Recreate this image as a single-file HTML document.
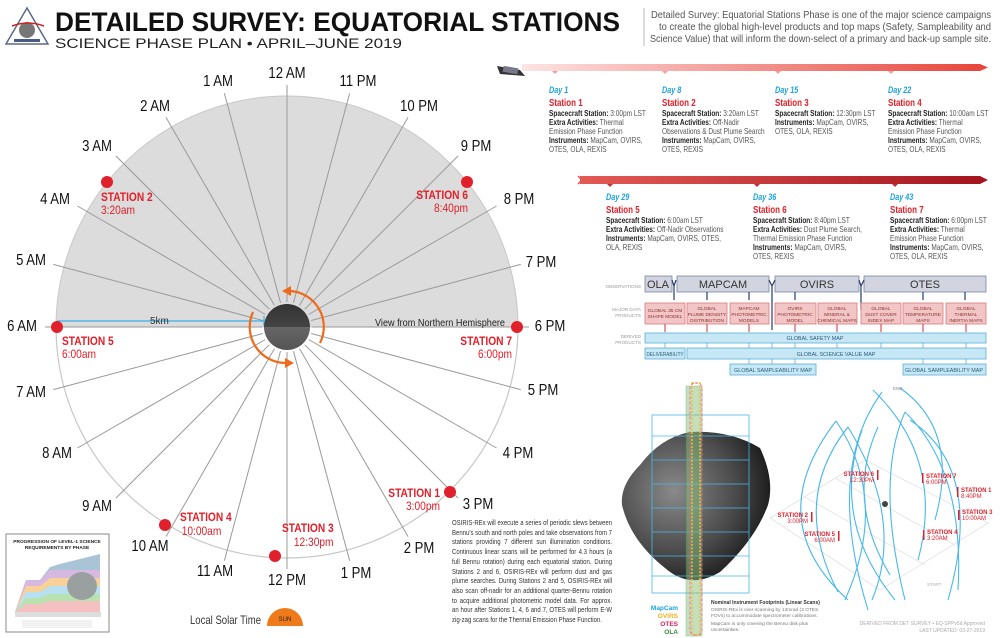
<!DOCTYPE html>
<html><head><meta charset="utf-8"><style>
html,body{margin:0;padding:0;background:#fff;}
svg{display:block;}
text{font-family:"Liberation Sans",sans-serif;}
.lab{font-size:16px;fill:#111;text-anchor:middle;dominant-baseline:middle;}
.st{font-size:12px;font-weight:bold;fill:#e0202a;}
.stt{font-size:12px;fill:#e0202a;}
.day{font-size:9.5px;font-weight:bold;font-style:italic;fill:#1aa3e0;}
.sn{font-size:10.5px;font-weight:bold;fill:#e0202a;}
.tl{font-size:8.6px;fill:#555;}
.tl tspan.b{font-weight:bold;fill:#222;}
.ob{font-size:11px;fill:#333;text-anchor:middle;}
.dp{font-size:4.8px;fill:#8a3030;text-anchor:middle;}
.dv{font-size:5.4px;fill:#2a5d7a;text-anchor:middle;}
.sl{font-size:4.6px;fill:#999;text-anchor:end;}
.s3{font-size:6px;font-weight:bold;fill:#e0202a;}
.s3t{font-size:6px;fill:#e0202a;}
</style></head><body>
<svg width="1000" height="638" viewBox="0 0 1000 638" xmlns="http://www.w3.org/2000/svg">
<defs>
<linearGradient id="g1" x1="0" x2="1"><stop offset="0" stop-color="#fde4e4"/><stop offset="1" stop-color="#e8453c"/></linearGradient>
<linearGradient id="g2" x1="0" x2="1"><stop offset="0" stop-color="#e35a55"/><stop offset="1" stop-color="#a3161f"/></linearGradient>
<radialGradient id="ast" cx="0.35" cy="0.4" r="0.7"><stop offset="0" stop-color="#8a8a8a"/><stop offset="0.6" stop-color="#4a4a4a"/><stop offset="1" stop-color="#151515"/></radialGradient>
<linearGradient id="ball" x1="0" y1="0" x2="0" y2="1"><stop offset="0" stop-color="#333"/><stop offset="0.5" stop-color="#444"/><stop offset="0.5" stop-color="#666"/><stop offset="1" stop-color="#555"/></linearGradient>
</defs>

<!-- logo -->
<polygon points="27,8 6,44 48,44" fill="#fff" stroke="#5a6a8a" stroke-width="1.5"/>
<circle cx="27" cy="30" r="8" fill="#777"/>
<path d="M12,26 Q28,20 44,26" stroke="#c22" stroke-width="1.5" fill="none"/>
<rect x="14" y="39" width="26" height="3" fill="#4a5a8a"/>

<!-- title -->
<text x="55" y="31" font-weight="bold" font-size="27" textLength="565" lengthAdjust="spacingAndGlyphs" fill="#111">DETAILED SURVEY:  EQUATORIAL STATIONS</text>
<text x="55" y="48" font-size="14" textLength="347" lengthAdjust="spacingAndGlyphs" fill="#222">SCIENCE PHASE PLAN • APRIL–JUNE 2019</text>

<line x1="644" y1="8" x2="644" y2="46" stroke="#bbb"/>
<g font-size="10.5" fill="#555">
<text x="651" y="18" textLength="340" lengthAdjust="spacingAndGlyphs">Detailed Survey: Equatorial Stations Phase is one of the major science campaigns</text>
<text x="659" y="30" textLength="332" lengthAdjust="spacingAndGlyphs">to create the global high-level products and top maps (Safety, Sampleability and</text>
<text x="650" y="42" textLength="341" lengthAdjust="spacingAndGlyphs">Science Value) that will inform the down-select of a primary and back-up sample site.</text>
</g>

<!-- clock -->
<path d="M56,327 A231,231 0 0 1 518,327 Z" fill="#dcdcdc" stroke="#c8c8c8"/>
<path d="M56,327 A231,231 0 0 0 518,327" fill="none" stroke="#c8c8c8" stroke-width="1.2"/>
<g stroke="#9a9a9a" stroke-width="1" transform="translate(287,327)">
<line x1="0" y1="-25" x2="0" y2="-242" transform="rotate(0)"/>
<line x1="0" y1="-25" x2="0" y2="-242" transform="rotate(-15)"/>
<line x1="0" y1="-25" x2="0" y2="-242" transform="rotate(-30)"/>
<line x1="0" y1="-25" x2="0" y2="-242" transform="rotate(-45)"/>
<line x1="0" y1="-25" x2="0" y2="-242" transform="rotate(-60)"/>
<line x1="0" y1="-25" x2="0" y2="-242" transform="rotate(-75)"/>
<line x1="0" y1="-25" x2="0" y2="-242" transform="rotate(-90)"/>
<line x1="0" y1="-25" x2="0" y2="-242" transform="rotate(-105)"/>
<line x1="0" y1="-25" x2="0" y2="-242" transform="rotate(-120)"/>
<line x1="0" y1="-25" x2="0" y2="-242" transform="rotate(-135)"/>
<line x1="0" y1="-25" x2="0" y2="-242" transform="rotate(-150)"/>
<line x1="0" y1="-25" x2="0" y2="-242" transform="rotate(-165)"/>
<line x1="0" y1="-25" x2="0" y2="-242" transform="rotate(-180)"/>
<line x1="0" y1="-25" x2="0" y2="-242" transform="rotate(-195)"/>
<line x1="0" y1="-25" x2="0" y2="-242" transform="rotate(-210)"/>
<line x1="0" y1="-25" x2="0" y2="-242" transform="rotate(-225)"/>
<line x1="0" y1="-25" x2="0" y2="-242" transform="rotate(-240)"/>
<line x1="0" y1="-25" x2="0" y2="-242" transform="rotate(-255)"/>
<line x1="0" y1="-25" x2="0" y2="-242" transform="rotate(-270)"/>
<line x1="0" y1="-25" x2="0" y2="-242" transform="rotate(-285)"/>
<line x1="0" y1="-25" x2="0" y2="-242" transform="rotate(-300)"/>
<line x1="0" y1="-25" x2="0" y2="-242" transform="rotate(-315)"/>
<line x1="0" y1="-25" x2="0" y2="-242" transform="rotate(-330)"/>
<line x1="0" y1="-25" x2="0" y2="-242" transform="rotate(-345)"/>
</g>
<g>
<text class="lab" transform="translate(287,74) scale(0.82,1)">12 AM</text>
<text class="lab" transform="translate(218,82) scale(0.82,1)">1 AM</text>
<text class="lab" transform="translate(155,107) scale(0.82,1)">2 AM</text>
<text class="lab" transform="translate(97,147) scale(0.82,1)">3 AM</text>
<text class="lab" transform="translate(55,200) scale(0.82,1)">4 AM</text>
<text class="lab" transform="translate(31,261) scale(0.82,1)">5 AM</text>
<text class="lab" transform="translate(22,327) scale(0.82,1)">6 AM</text>
<text class="lab" transform="translate(31,393) scale(0.82,1)">7 AM</text>
<text class="lab" transform="translate(57,454) scale(0.82,1)">8 AM</text>
<text class="lab" transform="translate(97,507) scale(0.82,1)">9 AM</text>
<text class="lab" transform="translate(150,547) scale(0.82,1)">10 AM</text>
<text class="lab" transform="translate(215,572) scale(0.82,1)">11 AM</text>
<text class="lab" transform="translate(287,581) scale(0.82,1)">12 PM</text>
<text class="lab" transform="translate(356,574) scale(0.82,1)">1 PM</text>
<text class="lab" transform="translate(419,549) scale(0.82,1)">2 PM</text>
<text class="lab" transform="translate(478,505) scale(0.82,1)">3 PM</text>
<text class="lab" transform="translate(518,454) scale(0.82,1)">4 PM</text>
<text class="lab" transform="translate(543,391) scale(0.82,1)">5 PM</text>
<text class="lab" transform="translate(550,327) scale(0.82,1)">6 PM</text>
<text class="lab" transform="translate(541,263) scale(0.82,1)">7 PM</text>
<text class="lab" transform="translate(519,200) scale(0.82,1)">8 PM</text>
<text class="lab" transform="translate(476,147) scale(0.82,1)">9 PM</text>
<text class="lab" transform="translate(419,107) scale(0.82,1)">10 PM</text>
<text class="lab" transform="translate(358,82) scale(0.82,1)">11 PM</text>
</g>
<line x1="57" y1="321" x2="264" y2="321" stroke="#3ab0e8" stroke-width="1.2"/>
<line x1="264" y1="316" x2="264" y2="326" stroke="#3ab0e8" stroke-width="1.2"/>
<text x="150" y="324" font-size="10" fill="#333">5km</text>
<text x="375" y="326" font-size="10.5" fill="#222" textLength="130" lengthAdjust="spacingAndGlyphs">View from Northern Hemisphere</text>

<circle cx="287" cy="327" r="23" fill="url(#ball)"/>
<path d="M320,343 A36,36 0 0 0 291,291" fill="none" stroke="#ef6a1a" stroke-width="2.2"/>
<polygon points="282,291 291,286 291,296" fill="#ef6a1a"/>
<path d="M253,312 A36,36 0 0 0 285,363" fill="none" stroke="#ef6a1a" stroke-width="2.2"/>
<polygon points="294,363 285,358 285,368" fill="#ef6a1a"/>

<!-- stations -->
<g fill="#e0202a">
<circle cx="107" cy="182" r="6"/><circle cx="467" cy="182" r="6"/>
<circle cx="57" cy="327" r="6"/><circle cx="517" cy="327" r="6"/>
<circle cx="450" cy="492" r="6"/><circle cx="165" cy="525" r="6"/>
<circle cx="275" cy="556" r="6"/>
</g>
<g transform="translate(101,0) scale(0.85,1)"><text class="st" x="0" y="201">STATION 2</text><text class="stt" x="0" y="214">3:20am</text></g>
<g transform="translate(468,0) scale(0.85,1)"><text class="st" x="0" y="199" text-anchor="end">STATION 6</text><text class="stt" x="0" y="212" text-anchor="end">8:40pm</text></g>
<g transform="translate(62,0) scale(0.85,1)"><text class="st" x="0" y="345">STATION 5</text><text class="stt" x="0" y="358">6:00am</text></g>
<g transform="translate(512,0) scale(0.85,1)"><text class="st" x="0" y="345" text-anchor="end">STATION 7</text><text class="stt" x="0" y="358" text-anchor="end">6:00pm</text></g>
<g transform="translate(440,0) scale(0.85,1)"><text class="st" x="0" y="497" text-anchor="end">STATION 1</text><text class="stt" x="0" y="510" text-anchor="end">3:00pm</text></g>
<g transform="translate(180,0) scale(0.85,1)"><text class="st" x="0" y="521">STATION 4</text><text class="stt" x="2" y="535">10:00am</text></g>
<g transform="translate(282,0) scale(0.85,1)"><text class="st" x="0" y="532">STATION 3</text><text class="stt" x="14" y="546">12:30pm</text></g>

<!-- local solar time -->
<text x="190" y="624" font-size="12" fill="#333" textLength="71" lengthAdjust="spacingAndGlyphs">Local Solar Time</text>
<path d="M267,626 A18,18 0 0 1 303,626 Z" fill="#ef7a1a"/>
<text x="285" y="621" font-size="6" fill="#222" text-anchor="middle">SUN</text>

<!-- chart inset -->
<rect x="6" y="534" width="103" height="98" fill="#fff" stroke="#888"/>
<text x="57" y="543" font-size="4.8" font-weight="bold" text-anchor="middle" fill="#222">PROGRESSION OF LEVEL-1 SCIENCE</text>
<text x="57" y="549" font-size="4.8" font-weight="bold" text-anchor="middle" fill="#222">REQUIREMENTS BY PHASE</text>
<path d="M15,612 L26,580 L40,580 L50,567 L60,564 L100,554 L100,612 Z" fill="#a8c4d6"/>
<path d="M15,612 L26,580 L40,580 L50,570 L100,570 L100,612 Z" fill="#d7b8e0"/>
<path d="M15,612 L26,586 L40,586 L50,578 L100,578 L100,612 Z" fill="#f8d09a"/>
<path d="M15,612 L26,592 L40,592 L50,586 L100,586 L100,612 Z" fill="#b9e0f0"/>
<path d="M15,612 L26,598 L40,598 L50,594 L100,594 L100,612 Z" fill="#b8e2b0"/>
<path d="M15,612 L26,604 L40,604 L50,601 L100,601 L100,612 Z" fill="#f5c0c0"/>
<ellipse cx="82" cy="586" rx="15" ry="14" fill="#9aa0a0"/>
<rect x="15" y="612" width="86" height="5" fill="#ddd"/>
<rect x="22" y="620" width="70" height="8" fill="#f2f2f2"/>

<!-- timeline 1 -->
<rect x="522" y="64" width="458" height="7" fill="url(#g1)"/>
<polygon points="980,64 988,67.5 980,71" fill="#e8453c"/>
<polygon points="497,66 520,70 525,76 500,74" fill="#333"/>
<rect x="503" y="67" width="15" height="6" fill="#778" transform="rotate(10 510 70)"/>
<g fill="#f2a0a0"><polygon points="552,71 558,71 555,74"/><polygon points="662,71 668,71 665,74"/><polygon points="775,71 781,71 778,74"/><polygon points="888,71 894,71 891,74"/></g>

<g transform="translate(549,0) scale(0.76,1)">
<text class="day" x="0" y="93">Day 1</text><text class="sn" x="0" y="106">Station 1</text>
<text class="tl" x="0" y="116"><tspan class="b">Spacecraft Station:</tspan> 3:00pm LST</text>
<text class="tl" x="0" y="125"><tspan class="b">Extra Activities:</tspan> Thermal</text>
<text class="tl" x="0" y="134">Emission Phase Function</text>
<text class="tl" x="0" y="143"><tspan class="b">Instruments:</tspan> MapCam, OVIRS,</text>
<text class="tl" x="0" y="152">OTES, OLA, REXIS</text>
</g>
<g transform="translate(662,0) scale(0.76,1)">
<text class="day" x="0" y="93">Day 8</text><text class="sn" x="0" y="106">Station 2</text>
<text class="tl" x="0" y="116"><tspan class="b">Spacecraft Station:</tspan> 3:20am LST</text>
<text class="tl" x="0" y="125"><tspan class="b">Extra Activities:</tspan> Off-Nadir</text>
<text class="tl" x="0" y="134">Observations &amp; Dust Plume Search</text>
<text class="tl" x="0" y="143"><tspan class="b">Instruments:</tspan> MapCam, OVIRS,</text>
<text class="tl" x="0" y="152">OTES, REXIS</text>
</g>
<g transform="translate(775,0) scale(0.76,1)">
<text class="day" x="0" y="93">Day 15</text><text class="sn" x="0" y="106">Station 3</text>
<text class="tl" x="0" y="116"><tspan class="b">Spacecraft Station:</tspan> 12:30pm LST</text>
<text class="tl" x="0" y="125"><tspan class="b">Instruments:</tspan> MapCam, OVIRS,</text>
<text class="tl" x="0" y="134">OTES, OLA, REXIS</text>
</g>
<g transform="translate(888,0) scale(0.76,1)">
<text class="day" x="0" y="93">Day 22</text><text class="sn" x="0" y="106">Station 4</text>
<text class="tl" x="0" y="116"><tspan class="b">Spacecraft Station:</tspan> 10:00am LST</text>
<text class="tl" x="0" y="125"><tspan class="b">Extra Activities:</tspan> Thermal</text>
<text class="tl" x="0" y="134">Emission Phase Function</text>
<text class="tl" x="0" y="143"><tspan class="b">Instruments:</tspan> MapCam, OVIRS,</text>
<text class="tl" x="0" y="152">OTES, OLA, REXIS</text>
</g>

<!-- timeline 2 -->
<rect x="580" y="176" width="400" height="8" fill="url(#g2)"/>
<polygon points="980,176 988,180 980,184" fill="#a3161f"/>
<polyline points="578,176 582,180 578,184" fill="none" stroke="#e35a55" stroke-width="1.5"/>
<g fill="#c03030"><polygon points="607,184 613,184 610,187"/><polygon points="754,184 760,184 757,187"/><polygon points="892,184 898,184 895,187"/></g>

<g transform="translate(606,0) scale(0.76,1)">
<text class="day" x="0" y="200">Day 29</text><text class="sn" x="0" y="213">Station 5</text>
<text class="tl" x="0" y="223"><tspan class="b">Spacecraft Station:</tspan> 6:00am LST</text>
<text class="tl" x="0" y="232"><tspan class="b">Extra Activities:</tspan> Off-Nadir Observations</text>
<text class="tl" x="0" y="241"><tspan class="b">Instruments:</tspan> MapCam, OVIRS, OTES,</text>
<text class="tl" x="0" y="250">OLA, REXIS</text>
</g>
<g transform="translate(753,0) scale(0.76,1)">
<text class="day" x="0" y="200">Day 36</text><text class="sn" x="0" y="213">Station 6</text>
<text class="tl" x="0" y="223"><tspan class="b">Spacecraft Station:</tspan> 8:40pm LST</text>
<text class="tl" x="0" y="232"><tspan class="b">Extra Activities:</tspan> Dust Plume Search,</text>
<text class="tl" x="0" y="241">Thermal Emission Phase Function</text>
<text class="tl" x="0" y="250"><tspan class="b">Instruments:</tspan> MapCam, OVIRS,</text>
<text class="tl" x="0" y="259">OTES, REXIS</text>
</g>
<g transform="translate(890,0) scale(0.76,1)">
<text class="day" x="0" y="200">Day 43</text><text class="sn" x="0" y="213">Station 7</text>
<text class="tl" x="0" y="223"><tspan class="b">Spacecraft Station:</tspan> 6:00pm LST</text>
<text class="tl" x="0" y="232"><tspan class="b">Extra Activities:</tspan> Thermal</text>
<text class="tl" x="0" y="241">Emission Phase Function</text>
<text class="tl" x="0" y="250"><tspan class="b">Instruments:</tspan> MapCam, OVIRS,</text>
<text class="tl" x="0" y="259">OTES, OLA, REXIS</text>
</g>

<!-- flow diagram -->
<text class="sl" x="641" y="288">OBSERVATIONS</text>
<text class="sl" x="641" y="311">MAJOR DATA</text><text class="sl" x="641" y="317">PRODUCTS</text>
<text class="sl" x="641" y="338">DERIVED</text><text class="sl" x="641" y="344">PRODUCTS</text>
<g fill="#d2d5df" stroke="#7584a8" stroke-width="0.8">
<rect x="645" y="276" width="27" height="16"/><rect x="677" y="276" width="92" height="16"/>
<rect x="775" y="276" width="84" height="16"/><rect x="864" y="276" width="122" height="16"/>
</g>
<text class="ob" x="658" y="288">OLA</text><text class="ob" x="723" y="288">MAPCAM</text>
<text class="ob" x="817" y="288">OVIRS</text><text class="ob" x="925" y="288">OTES</text>
<g stroke="#2a3c6a" stroke-width="1.2" fill="none">
<path d="M672,280 L674,286 L676,280 M674,286 V300"/>
<path d="M769,280 L772,286 L775,280 M772,286 V330"/>
<path d="M859,280 L861,286 L864,280 M861,286 V310"/>
<path d="M707,292 V300 M749,292 V300 M795,292 V300 M923,292 V300 M965,292 V300"/>
</g>
<g fill="#f2c6c6" stroke="#d97a7a" stroke-width="0.8">
<rect x="645" y="303" width="40" height="21"/><rect x="687" y="303" width="40" height="21"/>
<rect x="730" y="303" width="39" height="21"/><rect x="775" y="303" width="41" height="21"/>
<rect x="818" y="303" width="39" height="21"/><rect x="861" y="303" width="40" height="21"/>
<rect x="903" y="303" width="40" height="21"/><rect x="946" y="303" width="40" height="21"/>
</g>
<g>
<text class="dp" x="665" y="312">GLOBAL 35 CM</text><text class="dp" x="665" y="318">SHAPE MODEL</text>
<text class="dp" x="707" y="310">GLOBAL</text><text class="dp" x="707" y="316">PLUME DENSITY</text><text class="dp" x="707" y="322">DISTRIBUTION</text>
<text class="dp" x="749" y="310">MAPCAM</text><text class="dp" x="749" y="316">PHOTOMETRIC</text><text class="dp" x="749" y="322">MODELS</text>
<text class="dp" x="795" y="310">OVIRS</text><text class="dp" x="795" y="316">PHOTOMETRIC</text><text class="dp" x="795" y="322">MODEL</text>
<text class="dp" x="837" y="310">GLOBAL</text><text class="dp" x="837" y="316">MINERAL &amp;</text><text class="dp" x="837" y="322">CHEMICAL MAPS</text>
<text class="dp" x="881" y="310">GLOBAL</text><text class="dp" x="881" y="316">DUST COVER</text><text class="dp" x="881" y="322">INDEX MAP</text>
<text class="dp" x="923" y="310">GLOBAL</text><text class="dp" x="923" y="316">TEMPERATURE</text><text class="dp" x="923" y="322">MAPS</text>
<text class="dp" x="966" y="310">GLOBAL</text><text class="dp" x="966" y="316">THERMAL</text><text class="dp" x="966" y="322">INERTIA MAPS</text>
</g>
<g stroke="#d03030" stroke-width="1"><path d="M665,324 V332 M707,324 V332 M749,324 V332 M795,324 V332 M837,324 V332 M881,324 V332 M923,324 V332 M966,324 V332"/></g>
<g fill="#c6e7f6" stroke="#5aaed6" stroke-width="0.8">
<rect x="645" y="333" width="341" height="10"/>
<rect x="645" y="348" width="40" height="11"/><rect x="687" y="348" width="299" height="11"/>
<rect x="730" y="364" width="86" height="11"/><rect x="903" y="364" width="83" height="11"/>
</g>
<g stroke="#5aaed6" stroke-width="0.8"><path d="M665,343 V348 M707,343 V348 M749,343 V348 M772,343 V348 M795,343 V348 M837,343 V348 M881,343 V348 M923,343 V348 M966,343 V348 M749,359 V364 M772,359 V364 M795,359 V364 M923,359 V364 M966,359 V364"/></g>
<text class="dv" x="815" y="340">GLOBAL SAFETY MAP</text>
<text class="dv" x="665" y="356" textLength="37" lengthAdjust="spacingAndGlyphs">DELIVERABILITY</text>
<text class="dv" x="836" y="356">GLOBAL SCIENCE VALUE MAP</text>
<text class="dv" x="773" y="372">GLOBAL SAMPLEABILITY MAP</text>
<text class="dv" x="944" y="372">GLOBAL SAMPLEABILITY MAP</text>

<!-- asteroid footprints -->
<path d="M640,465 Q660,438 690,432 Q730,430 760,448 Q775,480 768,505 Q755,540 720,572 Q690,590 665,568 Q630,540 622,505 Q620,485 640,465 Z" fill="url(#ast)"/>
<g stroke="#4ab8ec" stroke-width="0.8" fill="none">
<rect x="652" y="415" width="97" height="178"/>
<path d="M652,436 H749 M652,460 H749 M652,484 H749 M652,508 H749 M652,532 H749 M652,556 H749 M652,576 H749"/>
</g>
<rect x="686" y="386" width="16" height="250" fill="#8ac080" opacity="0.5" stroke="#3a8a3a" stroke-width="0.6"/>
<rect x="692" y="383" width="8" height="252" fill="none" stroke="#f0c030" stroke-width="1.5" stroke-dasharray="2 1.5"/>
<rect x="690" y="383" width="12" height="252" rx="5" fill="none" stroke="#ff5a8a" stroke-width="0.8" stroke-dasharray="3 2"/>
<g font-size="6.5" font-weight="bold" text-anchor="end">
<text x="678" y="610" fill="#1aa3e0">MapCam</text>
<text x="678" y="618" fill="#f0b020">OVIRS</text>
<text x="678" y="626" fill="#e0205a">OTES</text>
<text x="678" y="634" fill="#3a8a3a">OLA</text>
</g>
<text x="711" y="604" font-size="5" font-weight="bold" fill="#333">Nominal Instrument Footprints (Linear Scans)</text>
<text x="711" y="611" font-size="4.8" fill="#777">OSIRIS-REx is over-scanning by 12mrad (3 OTES</text>
<text x="711" y="617" font-size="4.8" fill="#777">FOVs) to accommodate spectrometer calibrations.</text>
<text x="711" y="625" font-size="4.8" fill="#777">MapCam is only covering the Bennu disk plus</text>
<text x="711" y="631" font-size="4.8" fill="#777">uncertainties.</text>

<!-- 3D scan plot -->
<g stroke="#e2e2e2" fill="none" stroke-width="0.8">
<path d="M770,518 L865,460 L988,523 L880,590 Z"/>
<path d="M805,497 L925,565 M835,478 L955,545"/>
</g>
<g stroke="#4ab8ec" stroke-width="1.1" fill="none">
<path d="M836,421 Q760,520 848,600"/>
<path d="M836,421 Q890,500 845,600"/>
<path d="M848,427 Q790,500 838,592"/>
<path d="M848,427 Q905,520 872,600"/>
<path d="M873,390 Q945,460 918,560"/>
<path d="M882,392 Q825,470 868,610"/>
<path d="M905,412 Q965,470 958,590"/>
<path d="M905,412 Q875,480 905,600"/>
<path d="M910,420 Q985,470 948,600"/>
<path d="M878,427 Q845,500 890,575"/>
<path d="M862,430 Q830,520 895,600"/>
<path d="M900,388 Q960,430 935,520"/>
</g>
<circle cx="885" cy="504" r="3" fill="#444"/>
<g fill="#e0202a">
<rect x="877" y="470" width="1.5" height="10"/><rect x="922" y="473" width="1.5" height="10"/>
<rect x="957" y="487" width="1.5" height="10"/><rect x="811" y="512" width="1.5" height="10"/>
<rect x="958" y="510" width="1.5" height="10"/><rect x="838" y="531" width="1.5" height="10"/>
<rect x="923" y="530" width="1.5" height="10"/>
</g>
<text class="s3" x="874" y="476" text-anchor="end">STATION 6</text><text class="s3t" x="874" y="482" text-anchor="end">12:30PM</text>
<text class="s3" x="926" y="478">STATION 7</text><text class="s3t" x="926" y="484">6:00PM</text>
<text class="s3" x="961" y="492">STATION 1</text><text class="s3t" x="961" y="498">8:40PM</text>
<text class="s3" x="808" y="517" text-anchor="end">STATION 2</text><text class="s3t" x="808" y="523" text-anchor="end">3:00PM</text>
<text class="s3" x="962" y="514">STATION 3</text><text class="s3t" x="962" y="520">10:00AM</text>
<text class="s3" x="835" y="536" text-anchor="end">STATION 5</text><text class="s3t" x="835" y="542" text-anchor="end">6:00AM</text>
<text class="s3" x="927" y="534">STATION 4</text><text class="s3t" x="927" y="540">3:20AM</text>
<text x="893" y="390" font-size="4.5" fill="#888">END</text>
<text x="927" y="586" font-size="4.5" fill="#aaa">START</text>
<text x="985" y="625" font-size="5" fill="#aaa" text-anchor="end">DERIVED FROM DET SURVEY • EQ-SPPv5d Approved</text>
<text x="985" y="632" font-size="5" fill="#aaa" text-anchor="end">LAST UPDATED: 03-27-2019</text>
</svg>

<div style="position:absolute;left:452px;top:518px;width:200px;transform:scaleX(0.8);transform-origin:0 0;font-family:'Liberation Sans',sans-serif;font-size:7.5px;line-height:9.7px;color:#333;text-align:justify;">OSIRIS-REx will execute a series of periodic slews between Bennu's south and north poles and take observations from 7 stations providing 7 different sun illumination conditions. Continuous linear scans will be performed for 4.3 hours (a full Bennu rotation) during each equatorial station. During Stations 2 and 6, OSIRIS-REx will perform dust and gas plume searches. During Stations 2 and 5, OSIRIS-REx will also scan off-nadir for an additional quarter-Bennu rotation to acquire additional photometric model data. For approx. an hour after Stations 1, 4, 6 and 7, OTES will perform E-W zig-zag scans for the Thermal Emission Phase Function.</div>
</body></html>
